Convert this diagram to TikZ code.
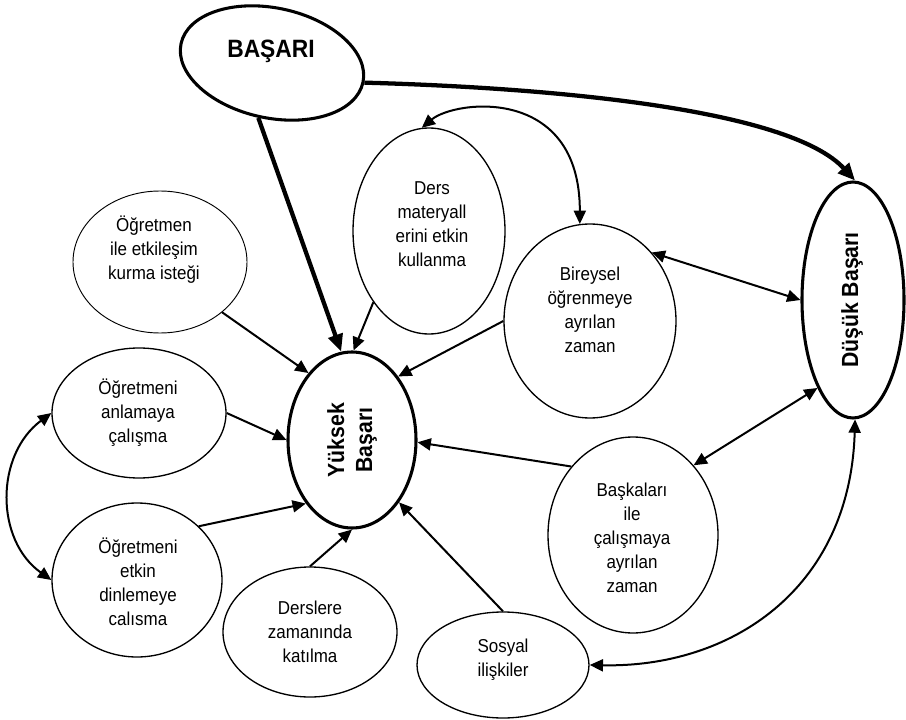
\documentclass[tikz,border=0pt]{standalone}
\usepackage{fontspec}
\setmainfont{Liberation Sans}[FakeStretch=0.91]
\usetikzlibrary{shapes.geometric,arrows.meta}
\begin{document}
\begin{tikzpicture}[x=0.75pt,y=-0.75pt,
  ell/.style={ellipse, draw, line width=1pt, inner sep=0pt},
  thickell/.style={ellipse, draw, line width=2.3pt, inner sep=0pt},
  txt/.style={align=center, font=\fontsize{14}{18}\selectfont, inner sep=0pt},
  bigtxt/.style={align=center, font=\bfseries\fontsize{17.5}{21}\selectfont, inner sep=0pt},
  conn/.style={line width=1.5pt, -{Triangle[length=10pt,width=9pt]}},
  dconn/.style={line width=1.5pt, {Triangle[length=10pt,width=9pt]}-{Triangle[length=10pt,width=9pt]}},
  thickconn/.style={line width=3.2pt, -{Triangle[length=13pt,width=11pt]}}]
\useasboundingbox (0,0) rectangle (906,720);

% ellipses
\node[thickell, minimum width=139.5pt, minimum height=82.5pt, rotate=-12] (bas) at (272,63) {};
\node[thickell, minimum width=96pt, minimum height=132pt] (yuk) at (352,440) {};
\node[thickell, minimum width=76.5pt, minimum height=177pt] (dus) at (853,300) {};
\node[ell, line width=0.7pt, minimum width=130.5pt, minimum height=106.5pt] (ogr) at (160,262) {};
\node[ell, minimum width=114pt, minimum height=154.5pt] (ders) at (429,231) {};
\node[ell, minimum width=129pt, minimum height=145.5pt] (bir) at (590,321) {};
\node[ell, minimum width=130.5pt, minimum height=97.5pt] (anl) at (139,413) {};
\node[ell, minimum width=127.5pt, minimum height=115.5pt] (etk) at (137,580) {};
\node[ell, minimum width=130.5pt, minimum height=97.5pt] (drs) at (310,632) {};
\node[ell, minimum width=129pt, minimum height=79.5pt] (sos) at (503,665) {};
\node[ell, minimum width=127.5pt, minimum height=147pt] (bsk) at (633,535) {};

% texts
\node[font=\bfseries\fontsize{18.8}{22}\selectfont, inner sep=0pt, anchor=base] (basT) at (271,58) {BAŞARI};
\node[bigtxt, rotate=90] (yukT) at (352,440) {Yüksek\\Başarı};
\node[bigtxt, rotate=90] (dusT) at (852,300) {Düşük Başarı};
\node[txt] (ogrT) at (154,250) {Öğretmen\\ile etkileşim\\kurma isteği};
\node[txt] (dersT) at (432,224) {Ders\\materyall\\erini etkin\\kullanma};
\node[txt] (birT) at (590,310) {Bireysel\\öğrenmeye\\ayrılan\\zaman};
\node[txt] (anlT) at (138,413) {Öğretmeni\\anlamaya\\çalışma};
\node[txt] (etkT) at (138,582) {Öğretmeni\\etkin\\dinlemeye\\calısma};
\node[txt] (drsT) at (310,632) {Derslere\\zamanında\\katılma};
\node[txt] (sosT) at (503,660) {Sosyal\\ilişkiler};
\node[txt] (bskT) at (632,538) {Başkaları\\ile\\çalışmaya\\ayrılan\\zaman};

% connectors
\draw[thickconn] (bas.-92) -- (yuk.97);
\draw[thickconn] (bas.0) .. controls (560,88) and (790,110) .. (dus.89);
\draw[conn] (ders.-128) -- (yuk.89);
\draw[dconn] (ders.94) .. controls (455,100) and (580,85) .. (bir.96);
\draw[conn] (bir.180) -- (yuk.54);
\draw[dconn] (bir.48) -- (dus.180);
\draw[dconn] (dus.-112) -- (bsk.49);
\draw[conn] (bsk.132) -- (yuk.-2);
\draw[dconn] (dus.-89) .. controls (850,590) and (730,668) .. (sos.0);
\draw[conn] (sos.90) -- (yuk.-53);
\draw[conn] (drs.90) -- (yuk.-90);
\draw[conn] (etk.41) -- (yuk.-126);
\draw[conn] (anl.0) -- (yuk.180);
\draw[conn] (ogr.-39) -- (yuk.123);
\draw[dconn] (anl.180) .. controls (-5,455) and (-5,540) .. (etk.180);
\end{tikzpicture}
\end{document}
